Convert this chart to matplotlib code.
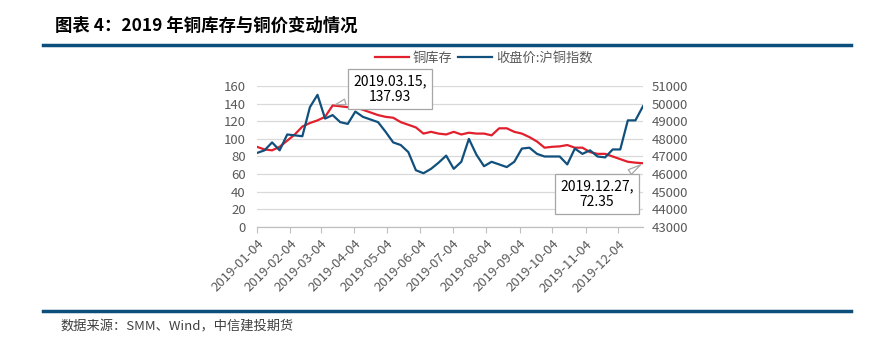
import numpy as np
import pandas as pd
import matplotlib
matplotlib.use('Agg')
import matplotlib.pyplot as plt
import matplotlib.dates as mdates

plt.rcParams['font.family'] = ['Noto Sans CJK SC', 'DejaVu Sans']

# weekly data, Fridays of 2019
dates = pd.date_range('2019-01-04', '2019-12-27', freq='W-FRI')

# copper stock (left axis)
stock = [91, 88, 87, 91, 98, 105, 114, 118, 121, 125,
         137.93, 137, 136, 136, 133, 130, 127, 125, 124, 119,
         116, 113, 106, 108, 106, 105, 108, 105, 107, 106,
         106, 104, 112, 112, 108, 106, 102, 97, 90, 91,
         91.5, 93, 90, 90, 85, 83, 83, 80, 77, 74,
         73, 72.35]

# SHFE copper index close (right axis)
price = [47200, 47350, 47800, 47350, 48250, 48200, 48150, 49800, 50500, 49150,
         49350, 48950, 48850, 49550, 49250, 49100, 48950, 48400, 47800, 47650,
         47250, 46220, 46050, 46300, 46650, 47050, 46300, 46700, 48000, 47100,
         46450, 46700, 46550, 46400, 46700, 47450, 47500, 47150, 47000, 47000,
         47000, 46550, 47450, 47150, 47350, 47000, 46950, 47400, 47400, 49050,
         49050, 49850]

tick_dates = pd.to_datetime(['2019-01-04', '2019-02-04', '2019-03-04', '2019-04-04',
                             '2019-05-04', '2019-06-04', '2019-07-04', '2019-08-04',
                             '2019-09-04', '2019-10-04', '2019-11-04', '2019-12-04'])
left_ticks = np.arange(0, 161, 20)
right_ticks = np.arange(43000, 51001, 1000)

red = '#E2202D'
blue = '#11507C'
grey = '#595959'

fig = plt.figure(figsize=(8.86, 3.42), dpi=100)
ax = fig.add_axes([0.290, 0.3363, 0.4357, 0.4122])
ax2 = ax.twinx()

l1, = ax.plot(dates, stock, color=red, lw=1.6, label='铜库存', zorder=3)
l2, = ax2.plot(dates, price, color=blue, lw=1.6, label='收盘价:沪铜指数', zorder=3)

ax.set_ylim(0, 160)
ax2.set_ylim(43000, 51000)
ax.set_yticks(left_ticks)
ax2.set_yticks(right_ticks)
ax.set_xlim(dates[0], dates[-1])
ax.set_xticks(tick_dates)
ax.xaxis.set_major_formatter(mdates.DateFormatter('%Y-%m-%d'))

ax.grid(axis='y', color='#D9D9D9', lw=0.9)
ax.set_axisbelow(True)
for a in (ax, ax2):
    for s in ('top', 'left', 'right'):
        a.spines[s].set_visible(False)
    a.spines['bottom'].set_color('#BFBFBF')
ax.tick_params(axis='y', length=0, labelsize=9.5, labelcolor=grey, pad=8)
ax2.tick_params(axis='y', length=0, labelsize=9.5, labelcolor=grey, pad=6)
ax.tick_params(axis='x', length=4, color='#BFBFBF', labelsize=9.5, labelcolor=grey)
for lab in ax.get_xticklabels():
    lab.set_rotation(45)
    lab.set_ha('right')
    lab.set_rotation_mode('anchor')

# callouts (drawn on the top axes so they sit over both lines)
box = dict(boxstyle='square,pad=0.35', fc='white', ec='#A6A6A6', lw=0.9)
arrow = dict(arrowstyle='wedge,tail_width=0.4', fc='white', ec='#A6A6A6', lw=0.9)
ax2.annotate('2019.03.15,\n137.93', xy=(mdates.date2num(dates[10]), stock[10]),
             xycoords=ax.transData, xytext=(390, 253),
             textcoords='figure pixels', ha='center', va='center', fontsize=10,
             bbox=box, arrowprops=arrow, zorder=5)
ax2.annotate('2019.12.27,\n72.35', xy=(mdates.date2num(dates[-1]), stock[-1]),
             xycoords=ax.transData, xytext=(597, 148),
             textcoords='figure pixels', ha='center', va='center', fontsize=10,
             bbox=box, arrowprops=arrow, zorder=5)

fig.legend(handles=[l1, l2], loc='center', bbox_to_anchor=(0.546, 0.83), ncol=2,
           frameon=False, fontsize=9.5, labelcolor=grey, handlelength=2.6,
           columnspacing=0.4, handletextpad=0.3)

# header / footer
fig.text(0.062, 0.925, '图表 4：2019 年铜库存与铜价变动情况', fontsize=12.5,
         fontweight='bold', color='black', va='center')
fig.add_artist(plt.Line2D([0.048, 0.96], [0.868, 0.868], color='#0B4F7A', lw=2.5))
fig.add_artist(plt.Line2D([0.048, 0.96], [0.09, 0.09], color='#0B4F7A', lw=2.5))
fig.text(0.068, 0.045, '数据来源：SMM、Wind，中信建投期货', fontsize=9.5,
         style='italic', color='#404040', va='center')

plt.savefig('out.png', dpi=100)
